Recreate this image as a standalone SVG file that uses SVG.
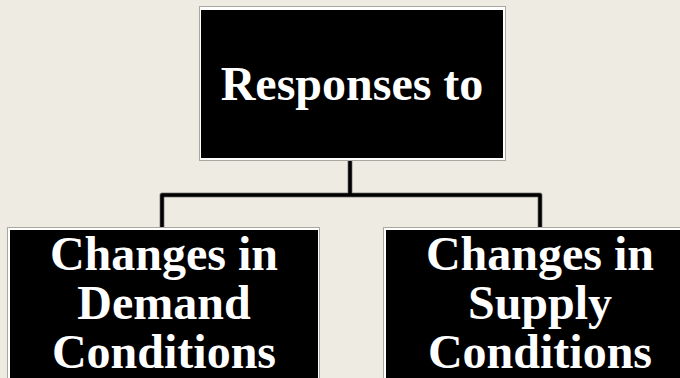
<svg xmlns="http://www.w3.org/2000/svg" width="680" height="378" viewBox="0 0 680 378">
  <style>
    .frame { fill: #ffffff; stroke: #a9a7a2; stroke-width: 1; }
    .box { fill: #000000; }
    .label { font-family: "Liberation Serif", "Times New Roman", serif; font-weight: bold; font-size: 48px; fill: #ffffff; text-anchor: middle; }
    .wire-halo { fill: none; stroke: #8f8d88; stroke-width: 5; stroke-linejoin: round; }
    .wire { fill: none; stroke: #000000; stroke-width: 3.5; stroke-linejoin: round; }
  </style>
  <rect x="0" y="0" width="680" height="378" fill="#eeebe3"/>

  <g id="connectors">
    <path class="wire-halo" d="M350 160 V195 M162 227 V195 H540 V227"/>
    <path class="wire" d="M350 160 V195 M162 227 V195 H540 V227"/>
  </g>

  <g id="responses">
    <rect class="frame" x="199.5" y="6.5" width="306" height="154"/>
    <rect class="box" x="201" y="10" width="302" height="148"/>
    <text class="label" x="352" y="100">Responses to</text>
  </g>

  <g id="demand">
    <rect class="frame" x="7.5" y="227.5" width="312" height="160"/>
    <rect class="box" x="10" y="230" width="308" height="160"/>
    <text class="label" x="164" y="270">Changes in</text>
    <text class="label" x="164" y="319">Demand</text>
    <text class="label" x="164" y="368">Conditions</text>
  </g>

  <g id="supply">
    <rect class="frame" x="383.5" y="227.5" width="312" height="160"/>
    <rect class="box" x="386" y="230" width="308" height="160"/>
    <text class="label" x="540" y="270">Changes in</text>
    <text class="label" x="540" y="319">Supply</text>
    <text class="label" x="540" y="368">Conditions</text>
  </g>
</svg>
